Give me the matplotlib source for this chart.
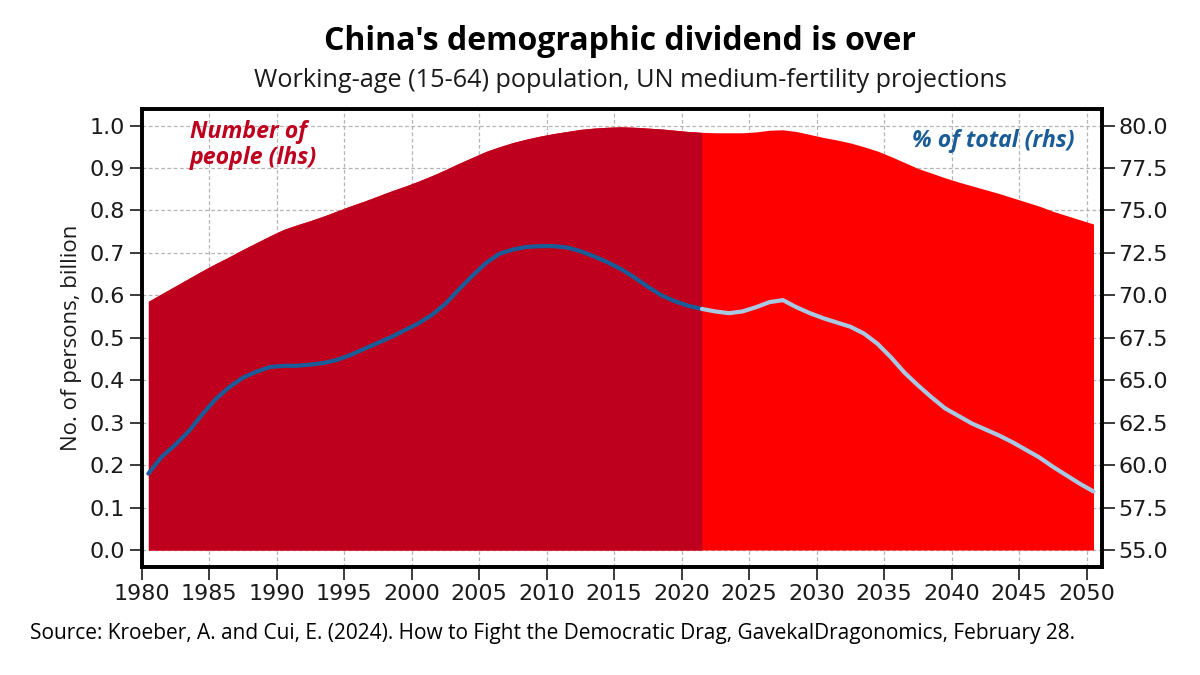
import numpy as np
import matplotlib
matplotlib.use('Agg')
import matplotlib.pyplot as plt

plt.rcParams['font.family'] = ['Open Sans', 'DejaVu Sans']

# Datos (lectura del grafico), un valor por anio, medido a mitad de anio
years = list(range(1980, 2051))
last_hist = 2021  # ultimo anio observado, luego proyeccion

people = [  # poblacion 15-64, miles de millones
    0.586, 0.604, 0.622, 0.640, 0.658, 0.675, 0.691, 0.708, 0.724, 0.740,
    0.755, 0.766, 0.776, 0.787, 0.799, 0.811, 0.822, 0.834, 0.846, 0.857,
    0.869, 0.882, 0.896, 0.911, 0.925, 0.939, 0.950, 0.960, 0.968, 0.975,
    0.981, 0.986, 0.991, 0.994, 0.996, 0.997, 0.996, 0.994, 0.992, 0.989,
    0.986, 0.984, 0.983, 0.983, 0.983, 0.985, 0.989, 0.990, 0.986, 0.979,
    0.972, 0.966, 0.959, 0.950, 0.940, 0.927, 0.913, 0.899, 0.888, 0.877,
    0.867, 0.858, 0.849, 0.840, 0.830, 0.820, 0.810, 0.798, 0.788, 0.778,
    0.768,
]

share = [  # % del total
    59.5, 60.5, 61.2, 62.0, 63.0, 63.9, 64.6, 65.15, 65.5, 65.78,
    65.85, 65.85, 65.92, 66.02, 66.2, 66.5, 66.85, 67.2, 67.55, 67.95,
    68.35, 68.85, 69.5, 70.35, 71.15, 71.9, 72.45, 72.7, 72.85, 72.9,
    72.9, 72.82, 72.6, 72.3, 71.95, 71.55, 71.05, 70.5, 70.0, 69.65,
    69.38, 69.2, 69.05, 68.95, 69.05, 69.3, 69.6, 69.72, 69.3, 68.95,
    68.65, 68.4, 68.15, 67.75, 67.15, 66.35, 65.45, 64.7, 64.0, 63.35,
    62.9, 62.45, 62.1, 61.75, 61.35, 60.9, 60.45, 59.9, 59.4, 58.9,
    58.45,
]

x_ticks = list(range(1980, 2051, 5))
lhs_ticks = [0.0, 0.1, 0.2, 0.3, 0.4, 0.5, 0.6, 0.7, 0.8, 0.9, 1.0]
rhs_ticks = [55.0, 57.5, 60.0, 62.5, 65.0, 67.5, 70.0, 72.5, 75.0, 77.5, 80.0]

DARK_RED = '#BE001E'
RED = '#FF0000'
BLUE = '#1A5C97'
LIGHT_BLUE = '#A9C8E4'
TEXT = '#1A1A1A'

x = np.array(years) + 0.5
people = np.array(people)
share = np.array(share)
hist = np.array(years) <= last_hist
proj = np.array(years) >= last_hist

fig = plt.figure(figsize=(12, 6.75), dpi=100)
ax = fig.add_axes([0.118, 0.16, 0.8, 0.6785])

# rojo en todo el rango y encima el tramo historico (evita la costura blanca)
ax.fill_between(x, 0, people, color=RED, lw=0, zorder=2)
ax.fill_between(x[hist], 0, people[hist], color=DARK_RED, lw=0, zorder=2)

ylo, yhi = -0.04, 1.039
ax.set_xlim(1980, 2051.1)
ax.set_ylim(ylo, yhi)
ax.set_xticks(x_ticks)
ax.set_yticks(lhs_ticks)
ax.set_yticklabels([f'{v:.1f}' for v in lhs_ticks])
ax.grid(ls=(0, (3, 2)), color='#B5B5B5', lw=0.9, zorder=0)
ax.set_axisbelow(True)
ax.tick_params(axis='both', labelsize=16, colors=TEXT, length=9, width=1.2,
               direction='out', pad=3)
for lab in ax.get_xticklabels() + ax.get_yticklabels():
    lab.set_family('DejaVu Sans')
ax.set_ylabel('No. of persons, billion', fontsize=16, color=TEXT)
ax.yaxis.set_label_coords(-0.062, 0.5)
for s in ax.spines.values():
    s.set_linewidth(2.6)
    s.set_color('black')

# Eje derecho: % del total, alineado 55 <-> 0.0 y 80 <-> 1.0
ax2 = ax.twinx()
ax2.set_ylim(55 + 25 * ylo, 55 + 25 * yhi)
ax2.set_yticks(rhs_ticks)
ax2.set_yticklabels([f'{v:.1f}' for v in rhs_ticks], family='DejaVu Sans')
ax2.tick_params(axis='y', labelsize=16, colors=TEXT, length=9, width=1.2, pad=3)
for s in ax2.spines.values():
    s.set_linewidth(2.6)
    s.set_color('black')

ax2.plot(x[hist], share[hist], color=BLUE, lw=3, solid_capstyle='round', zorder=3)
ax2.plot(x[proj], share[proj], color=LIGHT_BLUE, lw=3, solid_capstyle='round', zorder=3)

ax.text(0.05, 0.975, 'Number of\npeople (lhs)', transform=ax.transAxes,
        ha='left', va='top', fontsize=16.7, fontweight='bold', fontstyle='italic',
        color=DARK_RED, linespacing=1.1, zorder=5)
ax2.text(0.972, 0.93, '% of total (rhs)', transform=ax.transAxes,
         ha='right', va='center', fontsize=16.6, fontweight='bold',
         fontstyle='italic', color=BLUE, zorder=5)

fig.text(0.517, 0.938, "China's demographic dividend is over", ha='center',
         va='center', fontsize=23, fontweight='bold', color='black')
fig.text(0.525, 0.881, 'Working-age (15-64) population, UN medium-fertility projections',
         ha='center', va='center', fontsize=18.2, color=TEXT)
fig.text(0.025, 0.061, 'Source: Kroeber, A. and Cui, E. (2024). How to Fight the '
         'Democratic Drag, GavekalDragonomics, February 28.',
         ha='left', va='center', fontsize=15, color='black')

fig.savefig('out.png', dpi=100)
